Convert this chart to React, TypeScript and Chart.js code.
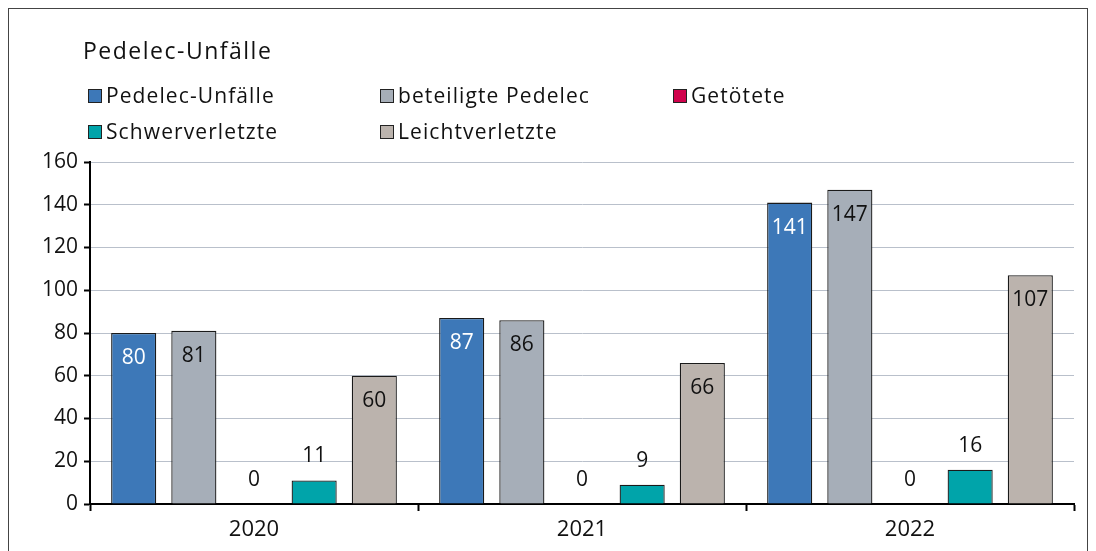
import React, { useEffect, useRef } from "react";
import { Chart, registerables } from "chart.js";

Chart.register(...registerables);

const categories = ["2020", "2021", "2022"];
const seriesNames = ["Pedelec-Unfälle", "beteiligte Pedelec", "Getötete", "Schwerverletzte", "Leichtverletzte"];
const pedelecUnfaelle = [80, 87, 141];
const beteiligtePedelec = [81, 86, 147];
const getoetete = [0, 0, 0];
const schwerverletzte = [11, 9, 16];
const leichtverletzte = [60, 66, 107];
const yTicks = [0, 20, 40, 60, 80, 100, 120, 140, 160];
const chartTitle = "Pedelec-Unfälle";

const colors = ["#3D78B8", "#A6AEB8", "#D0024C", "#00A4AA", "#BBB3AD"];
const labelModes = ["inW", "in", "out", "out", "in"];
const FONT = "'Open Sans'";

const overlayPlugin = {
  id: "overlay",
  afterDraw(chart: any) {
    const ctx = chart.ctx;
    ctx.save();
    // title
    ctx.fillStyle = "#111";
    ctx.font = `23px ${FONT}`;
    (ctx as any).letterSpacing = "1.5px";
    ctx.textAlign = "left";
    ctx.textBaseline = "alphabetic";
    ctx.fillText(chartTitle, 74, 50);
    // legend
    const cols = [79, 371, 664];
    const rows = [87, 123];
    ctx.font = `21px ${FONT}`;
    (ctx as any).letterSpacing = "1.1px";
    ctx.textBaseline = "middle";
    chart.data.datasets.forEach((ds: any, i: number) => {
      const x = cols[i % 3];
      const y = rows[Math.floor(i / 3)];
      ctx.fillStyle = ds.backgroundColor;
      ctx.fillRect(x, y - 7, 14, 14);
      ctx.strokeStyle = "#222";
      ctx.lineWidth = 1;
      ctx.strokeRect(x + 0.5, y - 6.5, 13, 13);
      ctx.fillStyle = "#111";
      ctx.fillText(ds.label, x + 18, y + 1);
    });
    // data labels
    (ctx as any).letterSpacing = "0px";
    ctx.textAlign = "center";
    ctx.font = `21px ${FONT}`;
    chart.data.datasets.forEach((ds: any, i: number) => {
      const meta = chart.getDatasetMeta(i);
      meta.data.forEach((bar: any, j: number) => {
        const v = ds.data[j];
        const mode = labelModes[i];
        let y = bar.y;
        if (mode === "out") y = bar.y - 24;
        else y = bar.y + 25;
        ctx.fillStyle = mode === "inW" ? "#FFFFFF" : "#111";
        ctx.fillText(String(v), bar.x, y);
      });
    });
    ctx.restore();
  },
};

export default function App() {
  const ref = useRef<HTMLCanvasElement>(null);
  useEffect(() => {
    if (!ref.current) return;
    const values = [pedelecUnfaelle, beteiligtePedelec, getoetete, schwerverletzte, leichtverletzte];
    const chart = new Chart(ref.current, {
      type: "bar",
      data: {
        labels: categories,
        datasets: values.map((d, i) => ({
          label: seriesNames[i],
          data: d,
          backgroundColor: colors[i],
          borderColor: "#1a1a1a",
          borderWidth: 1.3,
          categoryPercentage: 0.917,
          barPercentage: 0.75,
        })),
      },
      options: {
        responsive: false,
        animation: false,
        devicePixelRatio: 1,
        layout: { padding: { top: 153, right: 13, left: 0, bottom: 0 } },
        plugins: {
          legend: { display: false },
          title: { display: false },
          tooltip: { enabled: false },
        },
        scales: {
          x: {
            afterFit: (s: any) => { s.height = 50; },
            grid: {
              drawOnChartArea: false,
              drawTicks: true,
              tickLength: 7,
              tickColor: "#000",
              tickWidth: 2,
              offset: true,
            },
            border: { color: "#000", width: 2 },
            ticks: { color: "#111", font: { family: FONT, size: 22 }, padding: 6 },
          },
          y: {
            min: 0,
            max: 160,
            afterFit: (s: any) => { s.width = 81; },
            afterBuildTicks: (s: any) => { s.ticks = yTicks.map((v) => ({ value: v })); },
            grid: {
              color: "#B9C0CB",
              lineWidth: 1,
              tickLength: 6,
              tickColor: "#000",
              tickWidth: 2,
            },
            border: { color: "#000", width: 2 },
            ticks: { color: "#111", font: { family: FONT, size: 21 }, padding: 6 },
          },
        },
      },
      plugins: [overlayPlugin],
    });
    return () => chart.destroy();
  }, []);
  return (
    <div style={{ width: 1078, height: 560, border: "1px solid #444", background: "#fff" }}>
      <canvas ref={ref} width={1078} height={545} style={{ display: "block" }} />
    </div>
  );
}
